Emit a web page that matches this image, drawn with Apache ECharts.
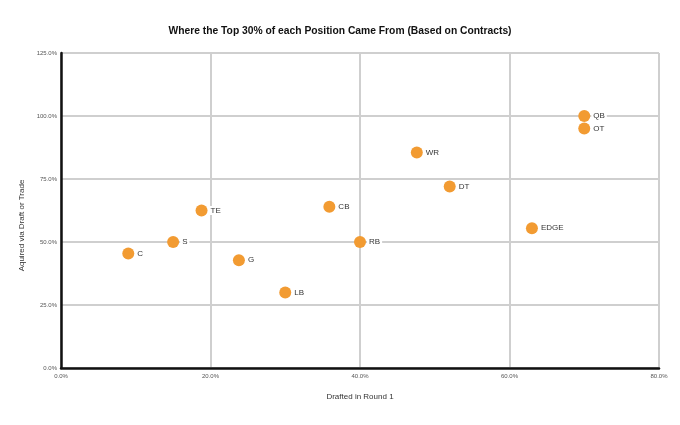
<!DOCTYPE html>
<html><head><meta charset="utf-8">
<script src="https://cdn.jsdelivr.net/npm/echarts@6/dist/echarts.min.js"></script>
<style>html,body{margin:0;padding:0;background:#fff}#c{width:680px;height:425px}</style>
</head><body><div id="c"></div>
<script>
const positions = ['C','S','TE','G','LB','CB','RB','WR','DT','EDGE','QB','OT'];
const draftedRound1 = [9.0, 15.0, 18.8, 23.8, 30.0, 35.9, 40.0, 47.6, 52.0, 63.0, 70.0, 70.0];
const acquiredDraftTrade = [45.4, 50.0, 62.5, 42.8, 30.0, 64.0, 50.0, 85.5, 72.0, 55.5, 100.0, 95.0];
const xTicks = [0, 20, 40, 60, 80];
const yTicks = [0, 25, 50, 75, 100, 125];

const chart = echarts.init(document.getElementById('c'));
const fmt = v => v.toFixed(1) + '%';
const FONT = 'Liberation Sans, Arial, Helvetica, sans-serif';
chart.setOption({
  animation: false,
  backgroundColor: '#fff',
  title: {
    text: 'Where the Top 30% of each Position Came From (Based on Contracts)',
    left: 'center', top: 21,
    textStyle: { fontFamily: FONT, fontSize: 10.3, fontWeight: 'bold', color: '#111' }
  },
  grid: { left: 61, right: 21, top: 53, bottom: 57 },
  xAxis: {
    type: 'value', min: xTicks[0], max: xTicks[xTicks.length-1], interval: 20,
    name: 'Drafted in Round 1', nameLocation: 'middle', nameGap: 25,
    nameTextStyle: { fontFamily: FONT, fontSize: 8, color: '#333' },
    axisLine: { show: true, lineStyle: { color: '#111', width: 2.5 } },
    axisTick: { show: false },
    axisLabel: { formatter: fmt, fontSize: 6, color: '#555', margin: 5, fontFamily: FONT },
    splitLine: { show: true, lineStyle: { color: '#cfcfcf', width: 2 } }
  },
  yAxis: {
    type: 'value', min: yTicks[0], max: yTicks[yTicks.length-1], interval: 25,
    name: 'Aquired via Draft or Trade', nameLocation: 'middle', nameGap: 31, nameRotate: 90,
    nameTextStyle: { fontFamily: FONT, fontSize: 8, color: '#333', padding: [0, 30, 0, 0] },
    axisLine: { show: true, lineStyle: { color: '#111', width: 2.5 } },
    axisTick: { show: false },
    axisLabel: { formatter: fmt, fontSize: 6, color: '#555', margin: 4, fontFamily: FONT },
    splitLine: { show: true, lineStyle: { color: '#cfcfcf', width: 2 } }
  },
  series: [{
    type: 'scatter',
    symbolSize: 12,
    itemStyle: { color: '#F29B32', opacity: 1 },
    label: {
      show: true, position: 'right', distance: 1,
      formatter: p => p.data[2],
      fontFamily: FONT, fontSize: 8, color: '#333',
      backgroundColor: '#fff', padding: [1, 2, 0, 2]
    },
    data: positions.map((p, i) => [draftedRound1[i], acquiredDraftTrade[i], p])
  }]
});
</script></body></html>
